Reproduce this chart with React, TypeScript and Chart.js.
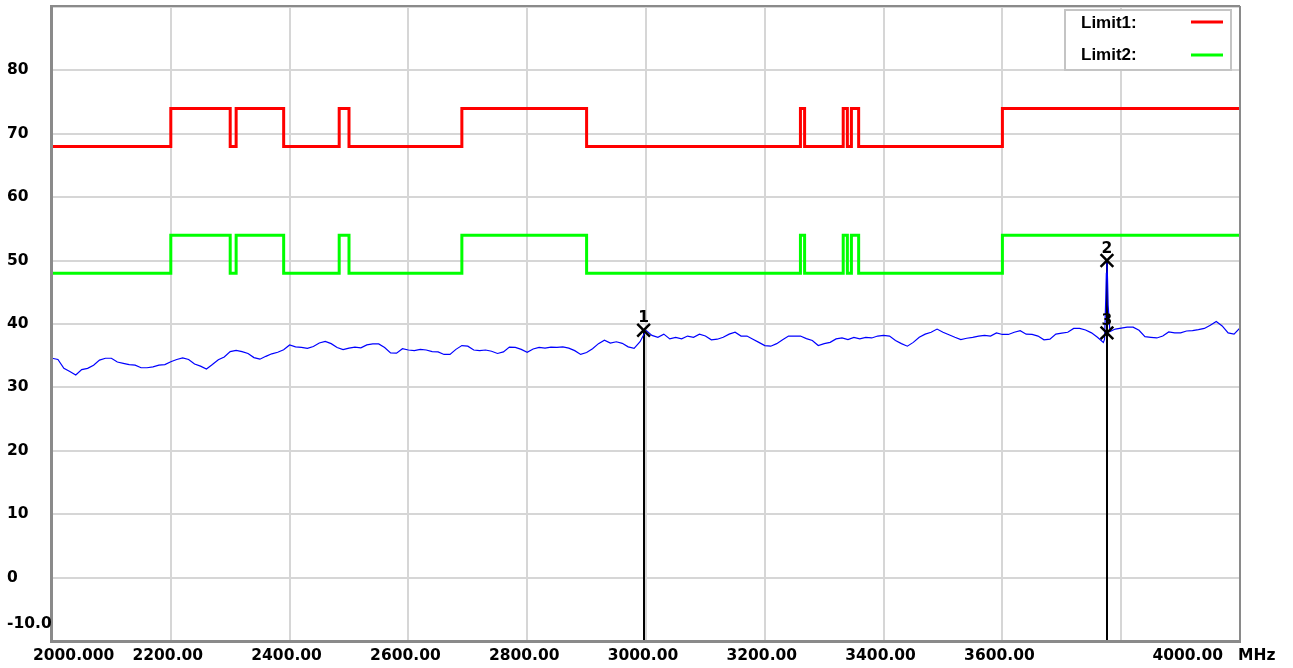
import React, { useEffect, useRef } from 'react';
import { Chart, registerables } from 'chart.js';

Chart.register(...registerables);

// ---------- axes ----------
const xMinMHz = 2000;
const xMaxMHz = 4000;
const xTickValues = [2000, 2200, 2400, 2600, 2800, 3000, 3200, 3400, 3600, 3800, 4000];
const xTickLabels = ['2000.000', '2200.00', '2400.00', '2600.00', '2800.00', '3000.00', '3200.00', '3400.00', '3600.00', '', '4000.00'];
const xUnitLabel = 'MHz';
const yMin = -10;
const yMax = 90;
const yTickValues = [80, 70, 60, 50, 40, 30, 20, 10, 0, -10];
const yTickLabels = ['80', '70', '60', '50', '40', '30', '20', '10', '0', '-10.0'];

// ---------- limit lines ----------
const limitFreqs = [2000, 2200, 2300, 2310, 2390, 2483.5, 2500, 2690, 2900, 3260, 3267, 3332, 3339, 3345.8, 3358, 3600, 4000];
const limit1Levels = [68, 74, 68, 74, 68, 74, 68, 74, 68, 74, 68, 74, 68, 74, 68, 74, 74];
const limit2Levels = [48, 54, 48, 54, 48, 54, 48, 54, 48, 54, 48, 54, 48, 54, 48, 54, 54];
const legendNames = ['Limit1:', 'Limit2:'];

// ---------- measured trace (10 MHz sweep points) ----------
const traceStepMHz = 10;
const traceLowStart = 2000; // 2000 .. 2990
const traceLow = [
  34.6, 34.4, 33.0, 32.5, 31.95, 32.8, 33.0, 33.5, 34.3, 34.6,
  34.6, 34.0, 33.8, 33.6, 33.5, 33.1, 33.1, 33.25, 33.5, 33.6,
  34.05, 34.4, 34.65, 34.4, 33.7, 33.35, 32.9, 33.6, 34.35, 34.8,
  35.65, 35.85, 35.65, 35.35, 34.7, 34.45, 34.9, 35.3, 35.55, 35.95,
  36.7, 36.4, 36.3, 36.15, 36.45, 37.0, 37.25, 36.9, 36.3, 35.95,
  36.2, 36.35, 36.25, 36.7, 36.85, 36.85, 36.3, 35.45, 35.4, 36.1,
  35.9, 35.8, 36.0, 35.9, 35.65, 35.6, 35.2, 35.2, 36.0, 36.6,
  36.5, 35.9, 35.8, 35.9, 35.7, 35.35, 35.6, 36.35, 36.3, 36.0,
  35.55, 36.05, 36.3, 36.2, 36.35, 36.3, 36.4, 36.2, 35.8, 35.2,
  35.5, 36.1, 36.9, 37.45, 37.0, 37.2, 36.95, 36.4, 36.15, 37.2,
];
const traceHighStart = 3000; // 3000 .. 4000
const traceHigh = [
  39.0, 38.2, 37.9, 38.4, 37.65, 37.9, 37.65, 38.1, 37.9, 38.4,
  38.1, 37.5, 37.6, 37.9, 38.4, 38.7, 38.1, 38.1, 37.6, 37.1,
  36.6, 36.5, 36.9, 37.5, 38.1, 38.1, 38.1, 37.7, 37.4, 36.6,
  36.9, 37.1, 37.65, 37.8, 37.55, 37.9, 37.65, 37.9, 37.8, 38.1,
  38.2, 38.1, 37.4, 36.9, 36.5, 37.1, 37.9, 38.4, 38.7, 39.2,
  38.7, 38.3, 37.9, 37.55, 37.75, 37.9, 38.1, 38.2, 38.1, 38.6,
  38.35, 38.35, 38.7, 38.95, 38.4, 38.35, 38.1, 37.5, 37.6, 38.4,
  38.55, 38.7, 39.3, 39.3, 39.05, 38.6, 37.9, 37.1, 38.5, 39.2,
  39.35, 39.5, 39.5, 39.0, 38.0, 37.9, 37.8, 38.1, 38.75, 38.6,
  38.6, 38.9, 38.95, 39.1, 39.3, 39.8, 40.4, 39.7, 38.6, 38.4,
  39.4,
];
// narrow emission at ~3776 MHz
const spikeFreqs = [3772, 3774, 3775, 3776, 3777, 3778, 3781];
const spikeLevels = [37.6, 44.0, 48.0, 50.0, 47.0, 43.0, 38.8];

// ---------- markers ----------
const markerFreqs = [2996, 3776, 3776];
const markerLevels = [39.0, 50.0, 38.6];
const markerLabels = ['1', '2', '3'];

const AXIS_FONT = 'bold 15.5px "DejaVu Sans"';
const LEGEND_FONT = 'bold 17px "Liberation Sans"';

function buildTrace() {
  const pts: { x: number; y: number }[] = [];
  traceLow.forEach((v, i) => pts.push({ x: traceLowStart + i * traceStepMHz, y: v }));
  traceHigh.forEach((v, i) => pts.push({ x: traceHighStart + i * traceStepMHz, y: v }));
  const lo = spikeFreqs[0];
  const hi = spikeFreqs[spikeFreqs.length - 1];
  const kept = pts.filter((p) => p.x < lo || p.x > hi);
  spikeFreqs.forEach((f, i) => kept.push({ x: f, y: spikeLevels[i] }));
  kept.sort((a, b) => a.x - b.x);
  return kept;
}

const overlayPlugin = {
  id: 'overlay',
  beforeDatasetsDraw(chart: any) {
    const { ctx, chartArea, scales } = chart;
    const xs = scales.x;
    const ys = scales.y;
    ctx.save();
    ctx.strokeStyle = '#000000';
    ctx.lineWidth = 2;
    markerFreqs.forEach((f, i) => {
      const px = Math.round(xs.getPixelForValue(f));
      const py = ys.getPixelForValue(markerLevels[i]);
      ctx.beginPath();
      ctx.moveTo(px, py);
      ctx.lineTo(px, chartArea.bottom);
      ctx.stroke();
    });
    ctx.restore();
  },
  afterDatasetsDraw(chart: any) {
    const { ctx, chartArea, scales } = chart;
    const xs = scales.x;
    const ys = scales.y;
    const { left, right, top, bottom } = chartArea;
    ctx.save();
    // frame
    ctx.strokeStyle = '#8a8a8a';
    ctx.lineWidth = 2;
    ctx.beginPath();
    ctx.moveTo(left, top - 1);
    ctx.lineTo(right, top - 1);
    ctx.moveTo(right, top - 1);
    ctx.lineTo(right, bottom);
    ctx.stroke();
    ctx.lineWidth = 3;
    ctx.beginPath();
    ctx.moveTo(left - 0.5, top - 2);
    ctx.lineTo(left - 0.5, bottom + 0.5);
    ctx.lineTo(right + 1, bottom + 0.5);
    ctx.stroke();

    // marker labels
    ctx.fillStyle = '#000000';
    ctx.font = AXIS_FONT;
    ctx.textAlign = 'center';
    ctx.textBaseline = 'alphabetic';
    markerFreqs.forEach((f, i) => {
      const px = xs.getPixelForValue(f);
      const py = ys.getPixelForValue(markerLevels[i]);
      ctx.fillText(markerLabels[i], px, py - 8);
    });

    // legend box
    const bx = 1065, by = 10, bw = 166, bh = 60;
    ctx.fillStyle = '#ffffff';
    ctx.fillRect(bx, by, bw, bh);
    ctx.strokeStyle = '#c4c4c4';
    ctx.lineWidth = 2;
    ctx.strokeRect(bx, by, bw, bh);
    const legendColors = ['#ff0000', '#00ff00'];
    const rowBase = [28, 60];
    const rowLine = [22, 55];
    ctx.font = LEGEND_FONT;
    ctx.textAlign = 'left';
    ctx.textBaseline = 'alphabetic';
    legendNames.forEach((name, i) => {
      ctx.fillStyle = '#000000';
      ctx.fillText(name, 1081, rowBase[i]);
      ctx.strokeStyle = legendColors[i];
      ctx.lineWidth = 3;
      ctx.beginPath();
      ctx.moveTo(1191, rowLine[i]);
      ctx.lineTo(1223, rowLine[i]);
      ctx.stroke();
    });
    ctx.restore();
  },
  afterDraw(chart: any) {
    const { ctx, chartArea, scales } = chart;
    const xs = scales.x;
    const ys = scales.y;
    ctx.save();
    ctx.fillStyle = '#000000';
    ctx.font = AXIS_FONT;
    // y labels
    ctx.textAlign = 'left';
    ctx.textBaseline = 'middle';
    yTickValues.forEach((v, i) => {
      let py = ys.getPixelForValue(v);
      if (v === yMin) py -= 17;
      ctx.fillText(yTickLabels[i], 7, py);
    });
    // x labels
    const ly = chartArea.bottom + 15;
    xTickValues.forEach((v, i) => {
      const lbl = xTickLabels[i];
      if (!lbl) return;
      const px = xs.getPixelForValue(v);
      if (v === xMinMHz) {
        ctx.textAlign = 'left';
        ctx.fillText(lbl, px - 19, ly);
      } else if (v === xMaxMHz) {
        ctx.textAlign = 'right';
        ctx.fillText(lbl, px - 17, ly);
      } else {
        ctx.textAlign = 'center';
        ctx.fillText(lbl, px - 3, ly);
      }
    });
    ctx.textAlign = 'left';
    ctx.fillText(xUnitLabel, xs.getPixelForValue(xMaxMHz) - 2, ly);
    ctx.restore();
  },
};

export default function App() {
  const ref = useRef<HTMLCanvasElement>(null);

  useEffect(() => {
    if (!ref.current) return;
    const chart = new Chart(ref.current, {
      type: 'line',
      data: {
        datasets: [
          {
            label: 'Markers',
            type: 'scatter',
            data: markerFreqs.map((f, i) => ({ x: f, y: markerLevels[i] })),
            showLine: false,
            pointStyle: 'crossRot',
            pointRadius: 9,
            pointBorderWidth: 2.5,
            borderColor: '#000000',
            backgroundColor: '#000000',
            order: 0,
          } as any,
          {
            label: 'Trace',
            data: buildTrace(),
            borderColor: '#0000ff',
            borderWidth: 1.2,
            pointRadius: 0,
            tension: 0,
            order: 1,
          },
          {
            label: 'Limit1',
            data: limitFreqs.map((f, i) => ({ x: f, y: limit1Levels[i] })),
            borderColor: '#ff0000',
            borderWidth: 3,
            pointRadius: 0,
            stepped: 'before',
            order: 2,
          },
          {
            label: 'Limit2',
            data: limitFreqs.map((f, i) => ({ x: f, y: limit2Levels[i] })),
            borderColor: '#00ff00',
            borderWidth: 3,
            pointRadius: 0,
            stepped: 'before',
            order: 3,
          },
        ],
      },
      options: {
        responsive: false,
        animation: false,
        devicePixelRatio: 1,
        layout: { autoPadding: false, padding: { left: 52, right: 53, top: 7, bottom: 27 } },
        plugins: {
          legend: { display: false },
          tooltip: { enabled: false },
        },
        scales: {
          x: {
            type: 'linear',
            min: xMinMHz,
            max: xMaxMHz,
            ticks: { display: false, stepSize: 200 },
            grid: { color: '#d6d6d6', lineWidth: 2, drawTicks: false },
            border: { display: false },
          },
          y: {
            type: 'linear',
            min: yMin,
            max: yMax,
            ticks: { display: false, stepSize: 10 },
            grid: { color: '#d6d6d6', lineWidth: 2, drawTicks: false },
            border: { display: false },
          },
        },
      },
      plugins: [overlayPlugin],
    });
    return () => chart.destroy();
  }, []);

  return (
    <div style={{ position: 'absolute', left: 0, top: 0, width: 1293, height: 668, background: '#ffffff' }}>
      <canvas ref={ref} width={1293} height={668} style={{ display: 'block' }} />
    </div>
  );
}
